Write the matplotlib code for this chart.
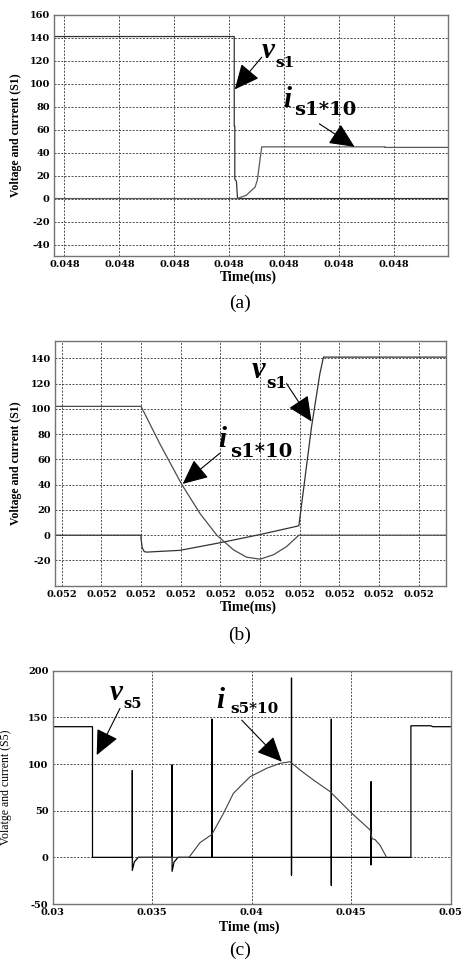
import numpy as np
import matplotlib
matplotlib.use('Agg')
import matplotlib.pyplot as plt

plt.rcParams['font.family'] = ['Liberation Serif', 'DejaVu Serif']
plt.rcParams['axes.unicode_minus'] = False

W, H = 462, 963

# ---- panel (a) : turn-off of S1 (x in tick units, all ticks read 0.048) ----
a_xticks = [0, 1, 2, 3, 4, 5, 6]
a_xlabels = ['0.048'] * 7
a_yticks = [-40, -20, 0, 20, 40, 60, 80, 100, 120, 140, 160]
va_t = [-0.2, 3.09, 3.09, 3.10, 3.10, 3.13, 3.15, 7.0]
va_v = [141, 141, 63, 63, 17, 15, 0, 0]
ia_t = [-0.2, 3.145, 3.31, 3.47, 3.51, 3.59, 5.83, 5.83, 7.0]
ia_v = [0, 0, 2.9, 10, 16, 45, 45, 44.5, 44.5]

# ---- panel (b) : all ticks read 0.052 ----
b_xticks = [0, 1, 2, 3, 4, 5, 6, 7, 8, 9]
b_xlabels = ['0.052'] * 10
b_yticks = [-20, 0, 20, 40, 60, 80, 100, 120, 140]
vb_t = [-0.2, 2.0, 2.0, 2.03, 2.08, 2.14, 2.98, 3.99, 5.0, 5.92, 5.98, 6.30, 6.51, 6.60, 9.8]
vb_v = [0, 0, -3, -10, -13, -13.4, -12, -6, 0.5, 7, 7.5, 86, 128, 141, 141]
ib_t = [-0.2, 2.0, 2.48, 3.03, 3.49, 3.91, 4.33, 4.66, 5.0, 5.34, 5.67, 5.98, 9.8]
ib_v = [102, 102, 72, 40, 17, 0, -11.6, -17.4, -19, -15.5, -9, 0, 0]

# ---- panel (c) : S5 ----
c_xticks = [0.03, 0.035, 0.04, 0.045, 0.05]
c_xlabels = ['0.03', '0.035', '0.04', '0.045', '0.05']
c_yticks = [-50, 0, 50, 100, 150, 200]
vc_t = [0.030, 0.032, 0.032, 0.034, 0.034, 0.034, 0.0341, 0.0343,
        0.036, 0.036, 0.036, 0.0361, 0.0363, 0.038, 0.038, 0.038,
        0.042, 0.042, 0.042, 0.042, 0.044, 0.044, 0.044, 0.044,
        0.046, 0.046, 0.046, 0.046, 0.048, 0.048, 0.049, 0.0491, 0.050]
vc_v = [140, 140, 0, 0, 93, -14, -5, 0,
        0, 99, -15, -5, 0, 0, 148, 0,
        0, 192, -19, 0, 0, 148, -30, 0,
        0, 81, -8, 0, 0, 141, 141, 140, 140]
ic_t = [0.0343, 0.03685, 0.0374, 0.0380, 0.03858, 0.03908, 0.03992, 0.04075,
        0.04142, 0.04193, 0.04243, 0.0431, 0.04394, 0.04494, 0.04595,
        0.04605, 0.0462, 0.04645, 0.04678]
ic_v = [0, 0, 15.7, 24.6, 47, 68.6, 86.4, 95.4,
        100.7, 102.5, 93.6, 82.9, 70.4, 49, 29.3,
        20, 19, 12.9, 0]

fig = plt.figure(figsize=(W / 100, H / 100), dpi=100)


def px_axes(l, t, r, b):
    return fig.add_axes([l / W, 1 - b / H, (r - l) / W, (b - t) / H])


def style(ax):
    for s in ax.spines.values():
        s.set_color('0.45')
        s.set_linewidth(1.0)
    ax.tick_params(length=0, pad=3)
    for lab in ax.get_xticklabels() + ax.get_yticklabels():
        lab.set_fontfamily('DejaVu Serif')
        lab.set_fontweight('bold')
        lab.set_fontsize(7)
    ax.grid(True, color='0.3', lw=0.7, ls=(0, (2, 1.5)))


def labels(ax, xl, yl, xpos, ypos, ybold=True, ysize=8.5):
    ax.set_xlabel(xl, fontsize=10, fontweight='bold')
    ax.xaxis.set_label_coords(*xpos)
    ax.set_ylabel(yl, fontsize=ysize, fontweight='bold' if ybold else 'normal')
    ax.yaxis.set_label_coords(*ypos)


def letter(x, y, s, size):
    fig.text(x / W, 1 - y / H, s, fontsize=size, fontweight='bold',
             fontstyle='italic', ha='left', va='baseline')


def sub(x, y, s, size):
    fig.text(x / W, 1 - y / H, s, fontsize=size, fontweight='bold',
             family='DejaVu Serif', ha='left', va='baseline')


arrow = dict(arrowstyle='-|>,head_length=0.65,head_width=0.3',
             mutation_scale=24, lw=0.8, color='k', shrinkA=0, shrinkB=0)

# (a)
ax1 = px_axes(54, 14.7, 448, 256)
ax1.plot(va_t, va_v, color='0.2', lw=0.9)
ax1.plot(ia_t, ia_v, color='0.35', lw=0.9)
ax1.set_xlim(-0.19, 6.98)
ax1.set_ylim(-50, 160)
ax1.set_xticks(a_xticks, a_xlabels)
ax1.set_yticks(a_yticks)
style(ax1)
labels(ax1, 'Time(ms)', 'Voltage and current (S1)', (0.492, -0.062), (-0.081, 0.5))
ax1.annotate('', xy=(3.10, 95), xytext=(3.59, 123), arrowprops=arrow)
ax1.annotate('', xy=(5.28, 45), xytext=(4.64, 65), arrowprops=arrow)
letter(262, 58.3, 'v', 21)
sub(275, 66.7, 's1', 11)
letter(283, 106.7, 'i', 21)
sub(294, 115, 's1*10', 14)
fig.text(240 / W, 1 - 303 / H, '(a)', fontsize=14, ha='center', va='center')

# (b)
ax2 = px_axes(55, 340.7, 446, 585.7)
ax2.plot(vb_t, vb_v, color='0.2', lw=0.9)
ax2.plot(ib_t, ib_v, color='0.3', lw=0.9)
ax2.set_xlim(-0.17, 9.69)
ax2.set_ylim(-40, 154)
ax2.set_xticks(b_xticks, b_xlabels)
ax2.set_yticks(b_yticks)
style(ax2)
labels(ax2, 'Time(ms)', 'Voltage and current (S1)', (0.494, -0.062), (-0.084, 0.5))
ax2.annotate('', xy=(6.30, 90), xytext=(5.67, 120), arrowprops=arrow)
ax2.annotate('', xy=(3.05, 40.6), xytext=(3.99, 65), arrowprops=arrow)
letter(251.7, 378.3, 'v', 22)
sub(266.7, 388.3, 's1', 12)
letter(218.3, 446.7, 'i', 21)
sub(230, 456.7, 's1*10', 14)
fig.text(240 / W, 1 - 635 / H, '(b)', fontsize=14, ha='center', va='center')

# (c)
ax3 = px_axes(52.7, 670.7, 450.7, 904)
ax3.plot(vc_t, vc_v, color='k', lw=0.9)
ax3.plot(ic_t, ic_v, color='0.25', lw=0.8)
ax3.set_xlim(0.03, 0.05)
ax3.set_ylim(-50, 200)
ax3.set_xticks(c_xticks, c_xlabels)
ax3.set_yticks(c_yticks)
style(ax3)
labels(ax3, 'Time (ms)', 'Volatge and current (S5)', (0.493, -0.069), (-0.102, 0.5),
       ybold=False, ysize=8.5)
ax3.annotate('', xy=(0.03221, 109.6), xytext=(0.03338, 159.6), arrowprops=arrow)
ax3.annotate('', xy=(0.04151, 102.5), xytext=(0.03950, 147), arrowprops=arrow)
letter(110, 700, 'v', 21)
sub(123.3, 708.3, 's5', 10.5)
letter(216, 708.3, 'i', 21)
sub(230, 712.7, 's5*10', 11)
fig.text(240 / W, 1 - 950 / H, '(c)', fontsize=14, ha='center', va='center')

fig.savefig('out.png', dpi=100)
